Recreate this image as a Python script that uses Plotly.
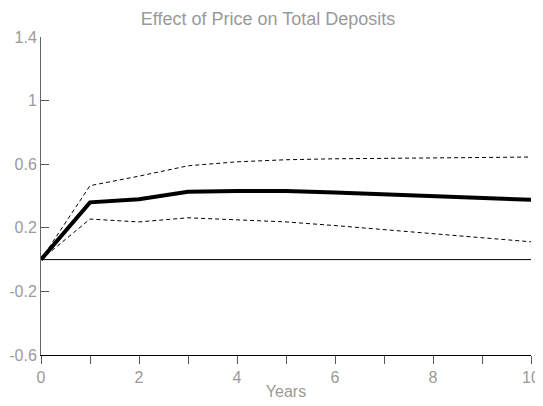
import plotly.graph_objects as go

years = [0, 1, 2, 3, 4, 5, 6, 7, 8, 9, 10]
effect = [0.0, 0.36, 0.38, 0.426, 0.432, 0.432, 0.422, 0.41, 0.398, 0.387, 0.376]
upper = [0.0, 0.465, 0.525, 0.59, 0.615, 0.628, 0.634, 0.636, 0.64, 0.642, 0.645]
lower = [0.0, 0.255, 0.237, 0.263, 0.25, 0.237, 0.214, 0.188, 0.162, 0.137, 0.112]
zero_line = [0.0] * len(years)

ytick_vals = [-0.6, -0.2, 0.2, 0.6, 1.0, 1.4]
ytick_text = ["-0.6", "-0.2", "0.2", "0.6", "1", "1.4"]
xtick_vals = list(range(11))
xtick_text = ["0", "", "2", "", "4", "", "6", "", "8", "", "10"]

font_family = "Liberation Sans, Arial, sans-serif"
gray = "#9a9a9a"

fig = go.Figure()
fig.add_trace(go.Scatter(x=years, y=zero_line, mode="lines",
                         line=dict(color="black", width=1), showlegend=False))
fig.add_trace(go.Scatter(x=years, y=upper, mode="lines",
                         line=dict(color="black", width=1, dash="4px,3px"), showlegend=False))
fig.add_trace(go.Scatter(x=years, y=lower, mode="lines",
                         line=dict(color="black", width=1, dash="4px,3px"), showlegend=False))
fig.add_trace(go.Scatter(x=years, y=effect, mode="lines",
                         line=dict(color="black", width=4), showlegend=False))

# the page adds an 8px body margin, so the figure is sized to fit the window
fig.update_layout(
    width=535, height=398,
    margin=dict(l=33, r=12, t=29, b=51),
    paper_bgcolor="white", plot_bgcolor="white",
    title=dict(text="Effect of Price on Total Deposits", x=0.486, xanchor="center",
               y=0.974, yanchor="middle",
               font=dict(family=font_family, size=18, color=gray)),
    font=dict(family=font_family, size=16, color=gray),
    xaxis=dict(range=[0, 10], tickvals=xtick_vals, ticktext=xtick_text,
               ticks="outside", ticklen=8, tickcolor="#555", tickwidth=1,
               showline=True, linecolor="black", linewidth=1,
               showgrid=False, zeroline=False, automargin=False,
               ticklabeloverflow="allow",
               title=dict(text="Years", standoff=0,
                          font=dict(family=font_family, size=16, color=gray)),
               tickfont=dict(family=font_family, size=16, color=gray)),
    yaxis=dict(range=[-0.6, 1.4], tickvals=ytick_vals, ticktext=ytick_text,
               ticks="inside", ticklen=8, tickcolor="#555", tickwidth=1,
               showline=True, linecolor="#666", linewidth=1,
               showgrid=False, zeroline=False, automargin=False,
               ticklabeloverflow="allow",
               tickfont=dict(family=font_family, size=16, color=gray)),
)

fig.write_html("out.html")
